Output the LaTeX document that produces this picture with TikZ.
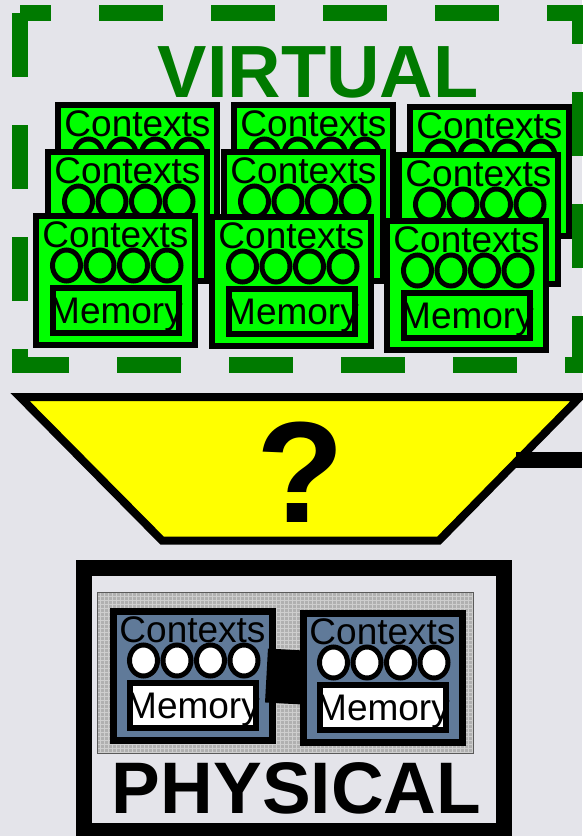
\documentclass[tikz,border=0pt]{standalone}
\usepackage{fontspec}
\setmainfont{Liberation Sans}
\usetikzlibrary{shapes.geometric}

\definecolor{bggray}{RGB}{228,228,234}
\definecolor{virtgreen}{RGB}{0,122,0}
\definecolor{cardgreen}{RGB}{0,255,0}
\definecolor{qyellow}{RGB}{255,255,0}
\definecolor{slateblue}{RGB}{96,122,153}
\definecolor{panelgray}{RGB}{176,176,176}
\definecolor{panelgrid}{RGB}{206,206,206}
\definecolor{paneledge}{RGB}{90,90,90}

\tikzset{
  cardframe/.style={draw=black, inner sep=0pt, minimum width=159pt, minimum height=129pt},
  ctxring/.style={ellipse, draw=black, line width=5pt, inner sep=0pt,
                  minimum width=28pt, minimum height=31pt},
  membox/.style={draw=black, line width=6pt, inner sep=0pt,
                 minimum width=126pt, minimum height=45pt},
  cardtext/.style={inner sep=0pt, anchor=base, font=\fontsize{37}{37}\selectfont},
  bigword/.style={inner sep=0pt, anchor=base},
  % one execution-context card: frame fill, ring/memory fill, frame pen
  pics/ctxcard/.style n args={3}{code={
    \node[cardframe, fill=#1, line width=#3] (-frame) at (82.5,67.5) {};
    \node[cardtext] (-ctx) at (82.5,34) {Contexts};
    \foreach \i/\cx in {1/33.5,2/67,3/100.5,4/134}
      \node[ctxring, fill=#2] (-ring\i) at (\cx,52.5) {};
    \node[membox, fill=#2] (-mem) at (83,97.5) {};
    \begin{scope}
      \clip (-mem.south west) rectangle (-mem.north east);
      \node[cardtext] (-memtext) at (83,110) {Memory};
    \end{scope}
  }},
}

\begin{document}
\begin{tikzpicture}[x=1pt, y=-1pt]
  \useasboundingbox (0,0) rectangle (582,836);
  \fill[bggray] (0,0) rectangle (582,836);

  % ---- virtual side ----
  \coordinate (vA) at (20,13);
  \coordinate (vB) at (580,13);
  \coordinate (vC) at (580,364.5);
  \coordinate (vD) at (20,364.5);
  \draw[virtgreen, line width=16pt, line cap=butt,
        dash pattern=on 64pt off 48pt, dash phase=33pt]
    (vA) -- (vB) -- (vC) -- (vD) -- (vA);

  \node[bigword, text=virtgreen, font=\fontsize{74}{74}\selectfont\bfseries]
    (virtual) at (318,97) {VIRTUAL};

  % back row
  \pic (g11) at (55,102)  {ctxcard={cardgreen}{cardgreen}{6pt}};
  \pic (g12) at (231,102) {ctxcard={cardgreen}{cardgreen}{6pt}};
  \pic (g13) at (407,104) {ctxcard={cardgreen}{cardgreen}{6pt}};
  % middle row
  \pic (g21) at (45,149)  {ctxcard={cardgreen}{cardgreen}{6pt}};
  \pic (g22) at (221,149) {ctxcard={cardgreen}{cardgreen}{6pt}};
  \pic (g23) at (396,152) {ctxcard={cardgreen}{cardgreen}{6pt}};
  % front row
  \pic (g31) at (33,213)  {ctxcard={cardgreen}{cardgreen}{6pt}};
  \pic (g32) at (209,214) {ctxcard={cardgreen}{cardgreen}{6pt}};
  \pic (g33) at (384,218) {ctxcard={cardgreen}{cardgreen}{6pt}};

  % ---- mapping funnel ----
  \coordinate (tzA) at (20,397);
  \coordinate (tzB) at (580,397);
  \coordinate (tzC) at (439,540.5);
  \coordinate (tzD) at (162,540.5);
  \draw[fill=qyellow, line width=8pt, line join=miter]
    (tzA) -- (tzB) -- (tzC) -- (tzD) -- cycle;
  \node[bigword, font=\fontsize{144}{144}\selectfont\bfseries] (qmark) at (300,522) {?};

  \coordinate (qlink) at (516,460);
  \coordinate (qexit) at (582,460);
  \draw[line width=16pt] (qlink) -- (qexit);

  % ---- physical side ----
  \node[draw=black, line width=16pt, inner sep=0pt,
        minimum width=420pt, minimum height=263pt] (physframe) at (294,699) {};

  \node[fill=panelgray, inner sep=0pt, minimum width=375pt, minimum height=160pt]
    (panel) at (285.5,673) {};
  \begin{scope}
    \clip (panel.south west) rectangle (panel.north east);
    \draw[panelgrid, line width=1pt, step=4pt]
      (panel.south west) grid (panel.north east);
  \end{scope}
  \draw[paneledge, line width=1pt] (panel.south west) rectangle (panel.north east);

  \pic (p1) at (110,608) {ctxcard={slateblue}{white}{7pt}};
  \pic (p2) at (300,610) {ctxcard={slateblue}{white}{7pt}};

  \draw[line width=54pt] ([xshift=-9pt]p1-frame.east) -- ([xshift=3.5pt]p2-frame.west);

  \node[bigword, font=\fontsize{73}{73}\selectfont\bfseries] (physical) at (296.5,813) {PHYSICAL};
\end{tikzpicture}
\end{document}
